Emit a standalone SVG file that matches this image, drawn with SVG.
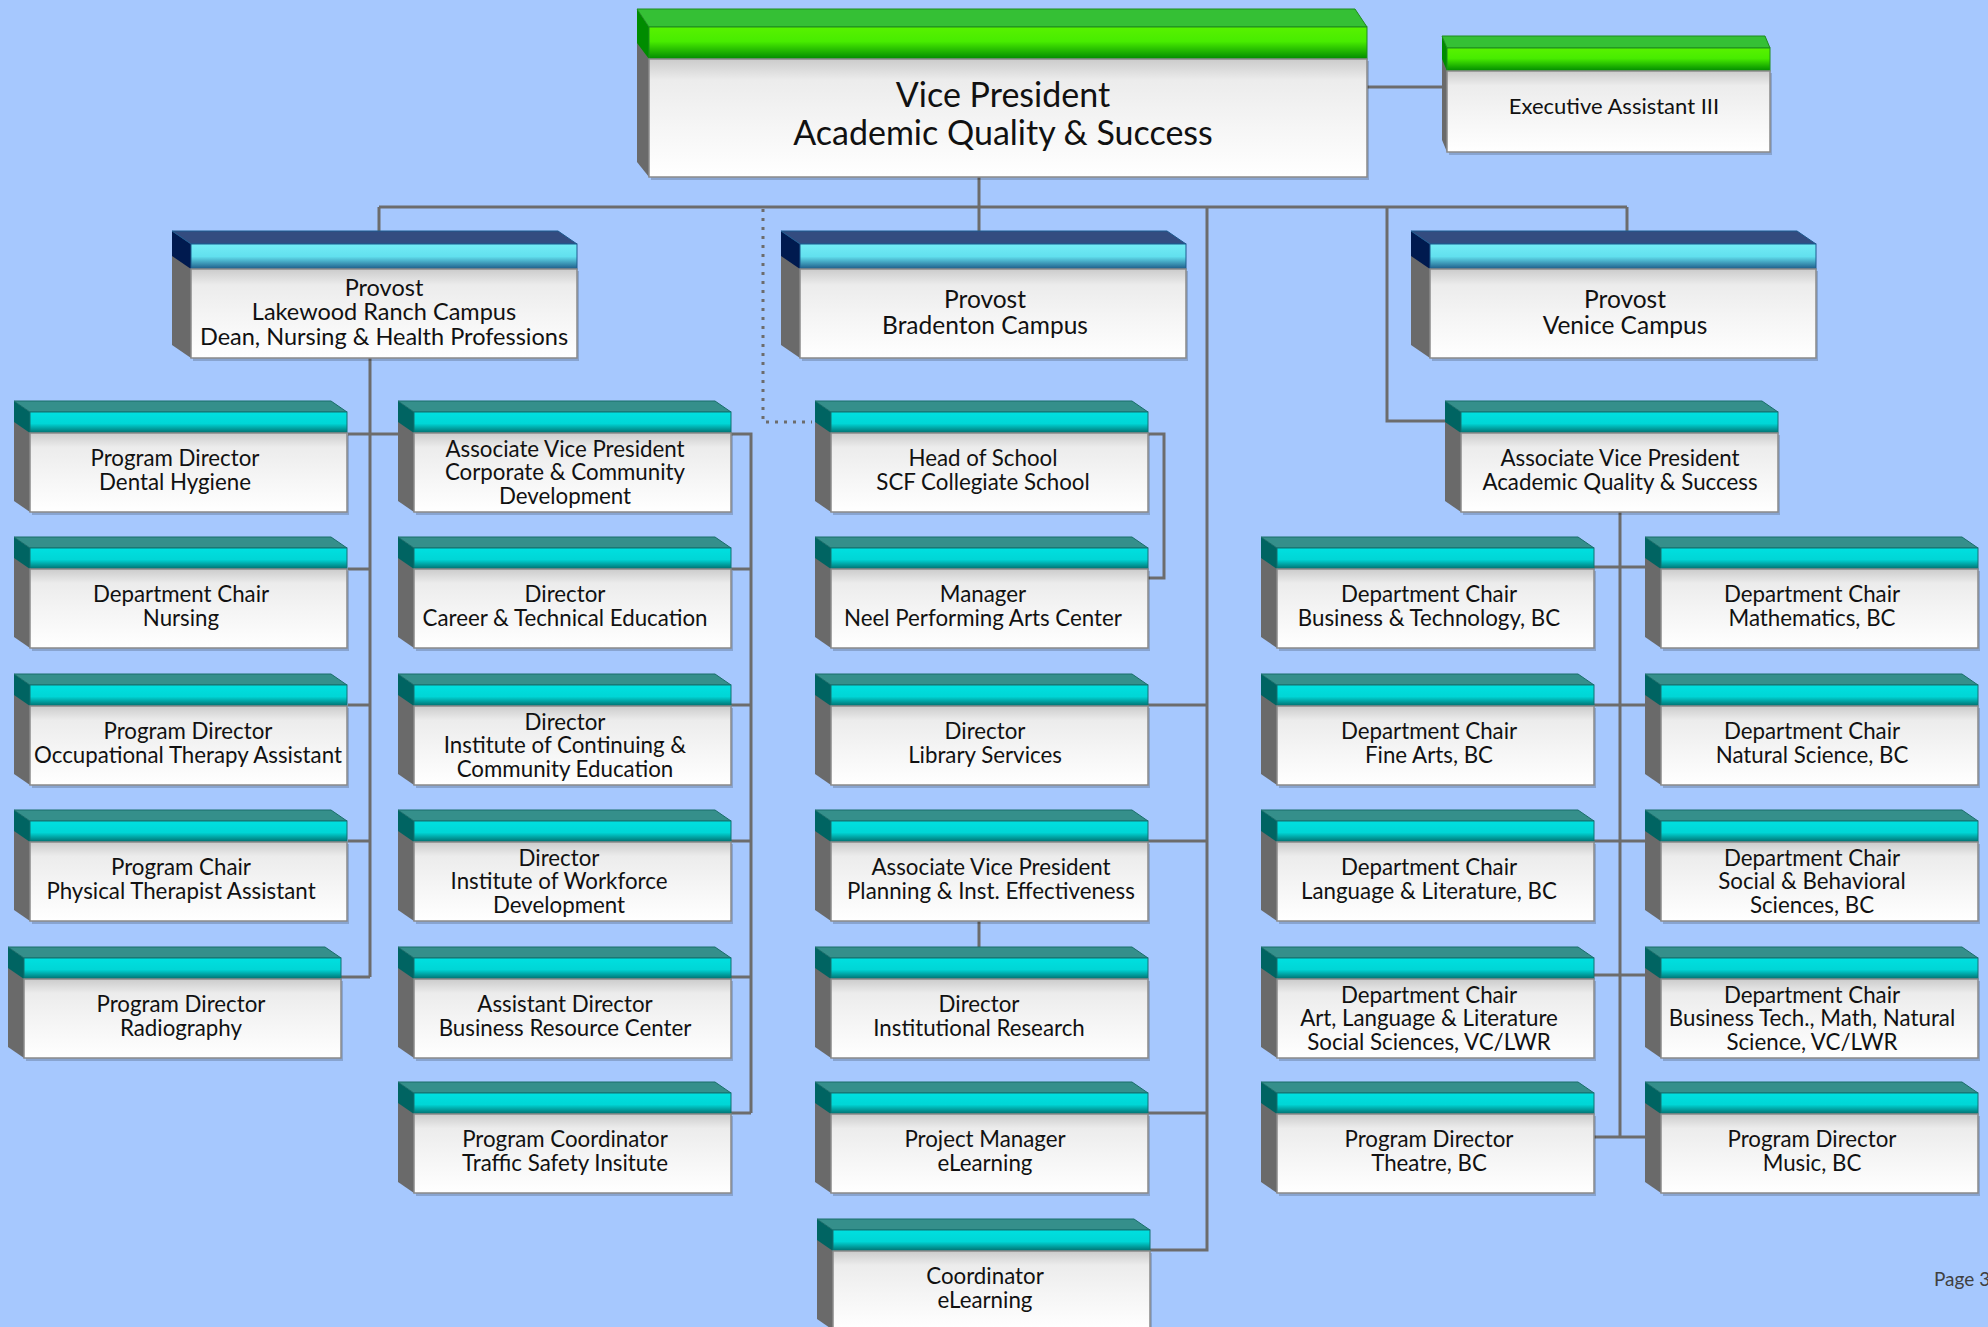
<svg xmlns="http://www.w3.org/2000/svg" width="1988" height="1327" viewBox="0 0 1988 1327">
<style>
.t{font-family:Lato,"Liberation Sans",sans-serif;font-size:22.3px;fill:#111;text-anchor:middle}
.tp{font-size:24.5px}
.tl{font-size:23.5px}
.tv{font-size:34px}
.te{font-size:22px}
.pg{font-family:Lato,"Liberation Sans",sans-serif;font-size:19px;fill:#404040}
.ln{fill:none;stroke:#6c6c6c;stroke-width:3}
.dot{fill:none;stroke:#6c6c6c;stroke-width:3;stroke-dasharray:3 6}
.side{fill:#6a6a6a}
.body{fill:url(#gBody);stroke:#8a8a8a;stroke-width:1.5}
</style>
<defs>
<linearGradient id="gBody" x1="0" y1="0" x2="0" y2="1">
<stop offset="0" stop-color="#cbcbcb"/><stop offset="0.18" stop-color="#ececec"/><stop offset="0.55" stop-color="#f5f5f5"/><stop offset="1" stop-color="#ffffff"/>
</linearGradient>
<linearGradient id="gTeal" x1="0" y1="0" x2="0" y2="1">
<stop offset="0" stop-color="#00e0e0"/><stop offset="0.55" stop-color="#00d6d6"/><stop offset="1" stop-color="#006e6e"/>
</linearGradient>
<linearGradient id="gProv" x1="0" y1="0" x2="0" y2="1">
<stop offset="0" stop-color="#74ecf5"/><stop offset="0.5" stop-color="#62e0ee"/><stop offset="1" stop-color="#1c5a88"/>
</linearGradient>
<linearGradient id="gGreen" x1="0" y1="0" x2="0" y2="1">
<stop offset="0" stop-color="#58f200"/><stop offset="0.45" stop-color="#48ec00"/><stop offset="1" stop-color="#008a00"/>
</linearGradient>
<g id="boxS">
<rect x="2" y="23" width="317" height="80" fill="#000" opacity="0.18"/>
<polygon class="side" points="-16,-11 0,0 0,100 -16,89"/>
<polygon points="-16,-11 0,0 0,21 -16,10" fill="#006462"/>
<polygon points="-16,-11 301,-11 317,0 0,0" fill="#358f8b" stroke="#1a6e6a" stroke-width="1"/>
<rect x="0" y="0" width="317" height="21" fill="url(#gTeal)" stroke="#127070" stroke-width="1"/>
<rect class="body" x="0" y="21" width="317" height="79"/>
</g>
<g id="boxP">
<rect x="2" y="27" width="386" height="90" fill="#000" opacity="0.18"/>
<polygon class="side" points="-19,-13 0,0 0,114 -19,101"/>
<polygon points="-19,-13 0,0 0,25 -19,12" fill="#001a4f"/>
<polygon points="-19,-13 367,-13 386,0 0,0" fill="#334c80" stroke="#1d5a8e" stroke-width="1"/>
<rect x="0" y="0" width="386" height="25" fill="url(#gProv)" stroke="#1d5a8e" stroke-width="1"/>
<rect class="body" x="0" y="25" width="386" height="89"/>
</g>
</defs>
<rect x="0" y="0" width="1988" height="1327" fill="#a6c8fe"/>

<g id="connectors">
<path class="ln" d="M979,177V207M379,207H1627M379,207V232M979,207V232M1627,207V231"/>
<path class="ln" d="M1367,87H1442"/>
<path class="dot" d="M763,209V422H812"/>
<path class="ln" d="M1207,207V1250H1150M1148,705H1207M1148,841H1207M1148,1113H1207"/>
<path class="ln" d="M1387,207V421H1445"/>
<path class="ln" d="M370,358V977M348,434H398M348,569H370M348,705H370M348,841H370M341,977H370"/>
<path class="ln" d="M730,434H751V1113M730,569H751M730,705H751M730,841H751M730,977H751M730,1113H751"/>
<path class="ln" d="M1148,434H1164V578H1148"/>
<path class="ln" d="M979,921V947"/>
<path class="ln" d="M1620,512V1137M1594,567H1646M1594,705H1646M1594,841H1646M1594,975H1646M1594,1137H1646"/>
</g>

<g id="vp">
<rect x="651" y="61" width="718" height="119" fill="#000" opacity="0.18"/>
<polygon class="side" points="637,9 649,27 649,177 637,162"/>
<polygon points="637,9 649,27 649,59 637,43" fill="#008c00"/>
<polygon points="637,9 1355,9 1367,27 649,27" fill="#35c035" stroke="#1e8c1e" stroke-width="1"/>
<rect x="649" y="27" width="718" height="32" fill="url(#gGreen)" stroke="#1e8c1e" stroke-width="1"/>
<rect class="body" x="649" y="59" width="718" height="118"/>
<text class="t tv" x="1003"><tspan x="1003" y="107">Vice President</tspan><tspan x="1003" y="145">Academic Quality &amp; Success</tspan></text>
</g>

<g id="ea">
<rect x="1449" y="73" width="323" height="82" fill="#000" opacity="0.18"/>
<polygon class="side" points="1442,36 1447,48 1447,152 1442,140"/>
<polygon points="1442,36 1447,48 1447,71 1442,59" fill="#008c00"/>
<polygon points="1442,36 1765,36 1770,48 1447,48" fill="#35c035" stroke="#1e8c1e" stroke-width="1"/>
<rect x="1447" y="48" width="323" height="23" fill="url(#gGreen)" stroke="#1e8c1e" stroke-width="1"/>
<rect class="body" x="1447" y="71" width="323" height="81"/>
<text class="t te" x="1614" y="114">Executive Assistant III</text>
</g>

<g id="prov-lwr"><use href="#boxP" x="191" y="244"/>
<text class="t tl"><tspan x="384" y="295.5">Provost</tspan><tspan x="384" y="320">Lakewood Ranch Campus</tspan><tspan x="384" y="344.5">Dean, Nursing &amp; Health Professions</tspan></text></g>
<g id="prov-bra"><use href="#boxP" x="800" y="244"/>
<text class="t tp"><tspan x="985" y="308">Provost</tspan><tspan x="985" y="334">Bradenton Campus</tspan></text></g>
<g id="prov-ven"><use href="#boxP" x="1430" y="244"/>
<text class="t tp"><tspan x="1625" y="308">Provost</tspan><tspan x="1625" y="334">Venice Campus</tspan></text></g>

<g id="a1"><use href="#boxS" x="30" y="412"/><text class="t"><tspan x="175" y="466">Program Director</tspan><tspan x="175" y="489.5">Dental Hygiene</tspan></text></g>
<g id="a2"><use href="#boxS" x="30" y="548"/><text class="t"><tspan x="181" y="602">Department Chair</tspan><tspan x="181" y="625.5">Nursing</tspan></text></g>
<g id="a3"><use href="#boxS" x="30" y="685"/><text class="t"><tspan x="188" y="739">Program Director</tspan><tspan x="188" y="762.5">Occupational Therapy Assistant</tspan></text></g>
<g id="a4"><use href="#boxS" x="30" y="821"/><text class="t"><tspan x="181" y="875">Program Chair</tspan><tspan x="181" y="898.5">Physical Therapist Assistant</tspan></text></g>
<g id="a5"><use href="#boxS" x="24" y="958"/><text class="t"><tspan x="181" y="1012">Program Director</tspan><tspan x="181" y="1035.5">Radiography</tspan></text></g>

<g id="b1"><use href="#boxS" x="414" y="412"/><text class="t"><tspan x="565" y="456.5">Associate Vice President</tspan><tspan x="565" y="480">Corporate &amp; Community</tspan><tspan x="565" y="503.5">Development</tspan></text></g>
<g id="b2"><use href="#boxS" x="414" y="548"/><text class="t"><tspan x="565" y="602">Director</tspan><tspan x="565" y="625.5">Career &amp; Technical Education</tspan></text></g>
<g id="b3"><use href="#boxS" x="414" y="685"/><text class="t"><tspan x="565" y="729.5">Director</tspan><tspan x="565" y="753">Institute of Continuing &amp;</tspan><tspan x="565" y="776.5">Community Education</tspan></text></g>
<g id="b4"><use href="#boxS" x="414" y="821"/><text class="t"><tspan x="559" y="865.5">Director</tspan><tspan x="559" y="889">Institute of Workforce</tspan><tspan x="559" y="912.5">Development</tspan></text></g>
<g id="b5"><use href="#boxS" x="414" y="958"/><text class="t"><tspan x="565" y="1012">Assistant Director</tspan><tspan x="565" y="1035.5">Business Resource Center</tspan></text></g>
<g id="b6"><use href="#boxS" x="414" y="1093"/><text class="t"><tspan x="565" y="1147">Program Coordinator</tspan><tspan x="565" y="1170.5">Traffic Safety Insitute</tspan></text></g>

<g id="c1"><use href="#boxS" x="831" y="412"/><text class="t"><tspan x="983" y="466">Head of School</tspan><tspan x="983" y="489.5">SCF Collegiate School</tspan></text></g>
<g id="c2"><use href="#boxS" x="831" y="548"/><text class="t"><tspan x="983" y="602">Manager</tspan><tspan x="983" y="625.5">Neel Performing Arts Center</tspan></text></g>
<g id="c3"><use href="#boxS" x="831" y="685"/><text class="t"><tspan x="985" y="739">Director</tspan><tspan x="985" y="762.5">Library Services</tspan></text></g>
<g id="c4"><use href="#boxS" x="831" y="821"/><text class="t"><tspan x="991" y="875">Associate Vice President</tspan><tspan x="991" y="898.5">Planning &amp; Inst. Effectiveness</tspan></text></g>
<g id="c5"><use href="#boxS" x="831" y="958"/><text class="t"><tspan x="979" y="1012">Director</tspan><tspan x="979" y="1035.5">Institutional Research</tspan></text></g>
<g id="c6"><use href="#boxS" x="831" y="1093"/><text class="t"><tspan x="985" y="1147">Project Manager</tspan><tspan x="985" y="1170.5">eLearning</tspan></text></g>
<g id="c7"><use href="#boxS" x="833" y="1230"/><text class="t"><tspan x="985" y="1284">Coordinator</tspan><tspan x="985" y="1307.5">eLearning</tspan></text></g>

<g id="avp-aqs"><use href="#boxS" x="1461" y="412"/><text class="t"><tspan x="1620" y="466">Associate Vice President</tspan><tspan x="1620" y="489.5">Academic Quality &amp; Success</tspan></text></g>

<g id="d1"><use href="#boxS" x="1277" y="548"/><text class="t"><tspan x="1429" y="602">Department Chair</tspan><tspan x="1429" y="625.5">Business &amp; Technology, BC</tspan></text></g>
<g id="d2"><use href="#boxS" x="1277" y="685"/><text class="t"><tspan x="1429" y="739">Department Chair</tspan><tspan x="1429" y="762.5">Fine Arts, BC</tspan></text></g>
<g id="d3"><use href="#boxS" x="1277" y="821"/><text class="t"><tspan x="1429" y="875">Department Chair</tspan><tspan x="1429" y="898.5">Language &amp; Literature, BC</tspan></text></g>
<g id="d4"><use href="#boxS" x="1277" y="958"/><text class="t"><tspan x="1429" y="1002.5">Department Chair</tspan><tspan x="1429" y="1026">Art, Language &amp; Literature</tspan><tspan x="1429" y="1049.5">Social Sciences, VC/LWR</tspan></text></g>
<g id="d5"><use href="#boxS" x="1277" y="1093"/><text class="t"><tspan x="1429" y="1147">Program Director</tspan><tspan x="1429" y="1170.5">Theatre, BC</tspan></text></g>

<g id="e1"><use href="#boxS" x="1661" y="548"/><text class="t"><tspan x="1812" y="602">Department Chair</tspan><tspan x="1812" y="625.5">Mathematics, BC</tspan></text></g>
<g id="e2"><use href="#boxS" x="1661" y="685"/><text class="t"><tspan x="1812" y="739">Department Chair</tspan><tspan x="1812" y="762.5">Natural Science, BC</tspan></text></g>
<g id="e3"><use href="#boxS" x="1661" y="821"/><text class="t"><tspan x="1812" y="865.5">Department Chair</tspan><tspan x="1812" y="889">Social &amp; Behavioral</tspan><tspan x="1812" y="912.5">Sciences, BC</tspan></text></g>
<g id="e4"><use href="#boxS" x="1661" y="958"/><text class="t"><tspan x="1812" y="1002.5">Department Chair</tspan><tspan x="1812" y="1026">Business Tech., Math, Natural</tspan><tspan x="1812" y="1049.5">Science, VC/LWR</tspan></text></g>
<g id="e5"><use href="#boxS" x="1661" y="1093"/><text class="t"><tspan x="1812" y="1147">Program Director</tspan><tspan x="1812" y="1170.5">Music, BC</tspan></text></g>

<text class="pg" x="1934" y="1286">Page 3</text>
</svg>
